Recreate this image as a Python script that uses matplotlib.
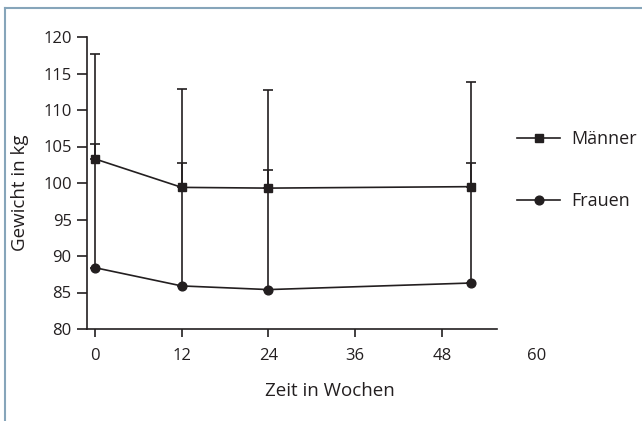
import matplotlib
matplotlib.use("Agg")
import matplotlib.pyplot as plt
import matplotlib.transforms as mtrans
from matplotlib.lines import Line2D
import numpy as np

weeks = [0, 12, 24, 52]
maenner_mean = [103.3, 99.4, 99.3, 99.5]
maenner_sd = [14.4, 13.5, 13.5, 14.3]
frauen_mean = [88.4, 85.9, 85.4, 86.3]
frauen_sd = [16.9, 16.8, 16.4, 16.5]
xticks = [0, 12, 24, 36, 48]
extra_xlabel = "60"
yticks = [80, 85, 90, 95, 100, 105, 110, 115, 120]
series_labels = ["Männer", "Frauen"]

plt.rcParams['font.family'] = ['Open Sans', 'DejaVu Sans']
txt = '#231f20'

fig = plt.figure(figsize=(6.42, 4.21), dpi=100)
ax = fig.add_axes([87/642, 1-329/421, (497-87)/642, (329-37)/421])

lw = 1.2
for mean, sd, mk, ms in [(maenner_mean, maenner_sd, 's', 6.3),
                         (frauen_mean, frauen_sd, 'o', 6.3)]:
    mean = np.array(mean); sd = np.array(sd)
    ax.errorbar(weeks, mean, yerr=[np.zeros_like(sd), sd], fmt='none',
                ecolor=txt, elinewidth=1.2, capsize=3.6, capthick=1.2, clip_on=False)
    ax.plot(weeks, mean, color=txt, lw=lw, marker=mk, ms=ms, clip_on=False, zorder=3)

ax.set_xlim(-1.1, 55.6)
ax.set_ylim(80, 120)
ax.set_xticks(xticks)
ax.set_yticks(yticks)
for s in ['top', 'right']:
    ax.spines[s].set_visible(False)
for s in ['left', 'bottom']:
    ax.spines[s].set_linewidth(1.2)
    ax.spines[s].set_color(txt)
ax.tick_params(axis='x', direction='out', length=6, width=1.2, pad=8,
               labelsize=12, colors=txt)
ax.tick_params(axis='y', direction='out', length=7, width=1.2, pad=4,
               labelsize=12, colors=txt)
off = mtrans.offset_copy(ax.get_xaxis_transform(), fig=fig, x=0, y=-18.5, units='dots')
ax.text(61.1, 0, extra_xlabel, transform=off, ha='center', va='top',
        fontsize=12, color=txt)

ax.set_xlabel("Zeit in Wochen", fontsize=13.5, color=txt)
ax.xaxis.set_label_coords((330-87)/410, (329-391)/292)
ax.xaxis.label.set_verticalalignment('center')
ax.set_ylabel("Gewicht in kg", fontsize=13.5, color=txt)
ax.yaxis.set_label_coords((20-87)/410, (329-193)/292)
ax.yaxis.label.set_verticalalignment('center')

handles = [Line2D([], [], color=txt, lw=lw, marker='s', ms=6.3),
           Line2D([], [], color=txt, lw=lw, marker='o', ms=6.3)]
fig.legend(handles, series_labels, loc='upper left',
           bbox_to_anchor=(517/642, 1-130/421), frameon=False,
           fontsize=13, handlelength=2.4, handletextpad=0.6,
           labelspacing=2.45, borderpad=0, borderaxespad=0,
           labelcolor=txt)

frame_c = '#86a5ba'
fig.add_artist(Line2D([5/642, 1], [1-7.5/421, 1-7.5/421], transform=fig.transFigure,
                      color=frame_c, lw=1.5))
fig.add_artist(Line2D([5/642, 5/642], [0, 1-7.5/421], transform=fig.transFigure,
                      color=frame_c, lw=1.5))

fig.savefig("out.png", dpi=100)
